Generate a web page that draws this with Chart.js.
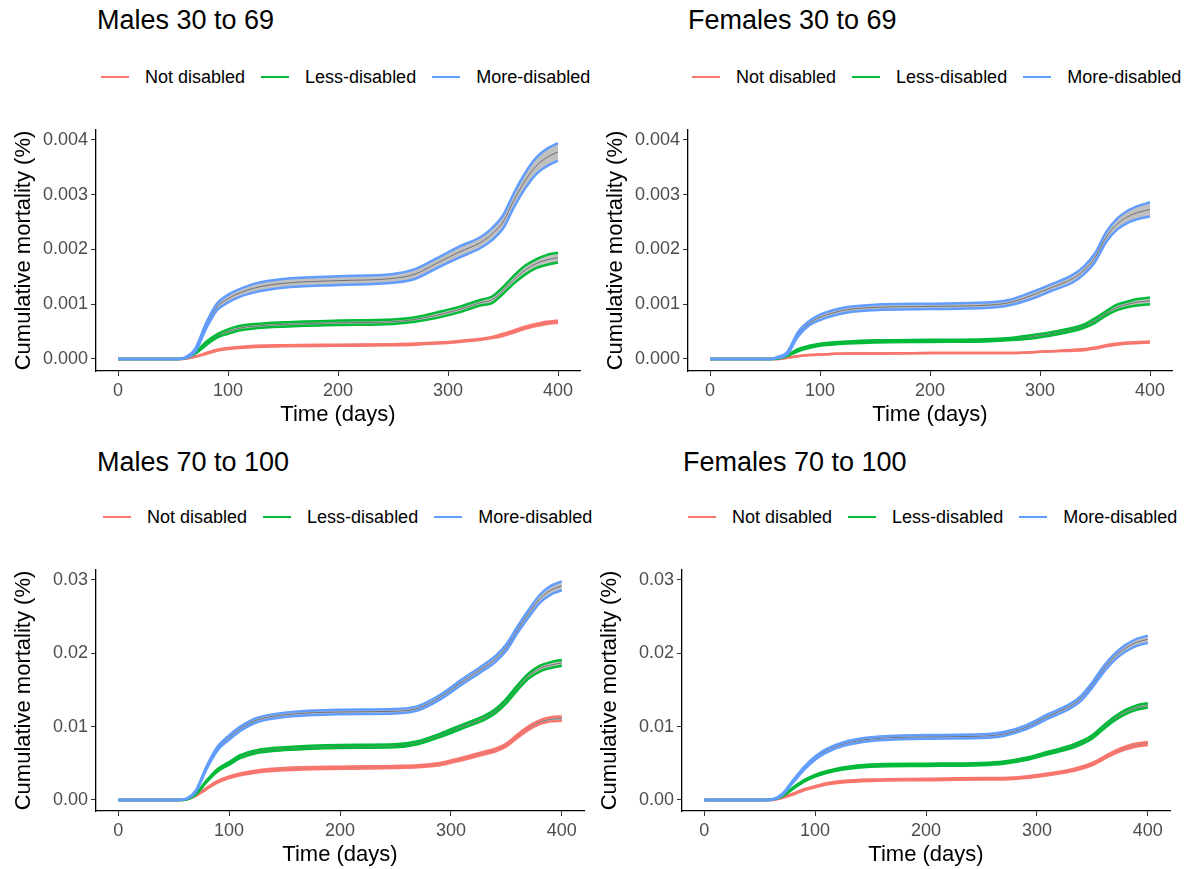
<!DOCTYPE html>
<html>
<head>
<meta charset="utf-8">
<script src="https://cdn.jsdelivr.net/npm/chart.js@4.4.1/dist/chart.umd.min.js"></script>
<style>
  body { margin: 0; background: #fff; width: 1190px; height: 869px; overflow: hidden; position: relative; font-family: "Liberation Sans", Arial, sans-serif; }
  .title { position: absolute; font-size: 27px; line-height: 27px; color: #000; white-space: nowrap; }
  .legend { position: absolute; display: flex; align-items: center; height: 20px; font-size: 18px; color: #000; white-space: nowrap; }
  .legend .sw { width: 28px; height: 2px; margin-right: 16px; }
  .legend .lab { margin-right: 16px; }
  .panel { position: absolute; }
</style>
</head>
<body>
<div id="root"></div>
<script>
// time points (days)
const days = [0, 55, 62, 70, 80, 90, 100, 110, 125, 150, 200, 250, 270, 290, 310, 330, 340, 350, 360, 370, 380, 390, 400];

const seriesNames = ["Not disabled", "Less-disabled", "More-disabled"];
const seriesColors = ["#F8766D", "#00BA38", "#619CFF"];
const xTicks = [0, 100, 200, 300, 400];
const yTicksYoung = [0, 0.001, 0.002, 0.003, 0.004];
const yTicksOld = [0, 0.01, 0.02, 0.03];

// Males 30 to 69
const m30Not  = [0, 0, 0.00001, 0.00004, 0.0001, 0.00016, 0.00019, 0.00021, 0.00023, 0.00024, 0.00025, 0.00026, 0.00027, 0.00029, 0.00032, 0.00036, 0.00039, 0.00044, 0.0005, 0.00057, 0.00062, 0.00066, 0.00068];
const m30Less = [0, 0, 0.00002, 0.0001, 0.00028, 0.00042, 0.0005, 0.00056, 0.0006, 0.00063, 0.00066, 0.00068, 0.00072, 0.0008, 0.0009, 0.00103, 0.00108, 0.00125, 0.00145, 0.00162, 0.00174, 0.00181, 0.00185];
const m30More = [0, 0, 0.00003, 0.00015, 0.0006, 0.00095, 0.0011, 0.0012, 0.0013, 0.00138, 0.00143, 0.00147, 0.00155, 0.00175, 0.00195, 0.00213, 0.00228, 0.0025, 0.0029, 0.00325, 0.00352, 0.00368, 0.00378];
const m30NotCi  = [0, 0, 0, 0, 0.00001, 0.00001, 0.00001, 0.00001, 0.00001, 0.00001, 0.00001, 0.00001, 0.00001, 0.00001, 0.00001, 0.00001, 0.00001, 0.00002, 0.00002, 0.00002, 0.00002, 0.00002, 0.00002];
const m30LessCi = [0, 0, 0, 0.00001, 0.00003, 0.00003, 0.00004, 0.00004, 0.00004, 0.00004, 0.00004, 0.00004, 0.00004, 0.00005, 0.00005, 0.00005, 0.00006, 0.00006, 0.00007, 0.00008, 0.00008, 0.00009, 0.00009];
const m30MoreCi = [0, 0, 0.00001, 0.00003, 0.00005, 0.00006, 0.00007, 0.00007, 0.00008, 0.00008, 0.00008, 0.00008, 0.00009, 0.00009, 0.0001, 0.0001, 0.00011, 0.00012, 0.00013, 0.00014, 0.00015, 0.00016, 0.00016];

// Females 30 to 69
const f30Not  = [0, 0, 0, 0.00002, 0.00005, 0.00007, 0.00008, 0.00009, 0.0001, 0.0001, 0.00011, 0.00011, 0.00011, 0.00012, 0.00014, 0.00016, 0.00017, 0.0002, 0.00024, 0.00027, 0.00029, 0.0003, 0.00031];
const f30Less = [0, 0, 0.00001, 0.00006, 0.00016, 0.00022, 0.00026, 0.00028, 0.0003, 0.00032, 0.00033, 0.00034, 0.00036, 0.0004, 0.00046, 0.00054, 0.0006, 0.0007, 0.00083, 0.00094, 0.001, 0.00104, 0.00106];
const f30More = [0, 0, 0.00003, 0.0001, 0.00045, 0.00065, 0.00076, 0.00083, 0.0009, 0.00094, 0.00096, 0.00098, 0.00102, 0.00114, 0.0013, 0.00147, 0.00162, 0.00185, 0.00222, 0.00246, 0.0026, 0.00268, 0.00273];
const f30NotCi  = [0, 0, 0, 0, 0, 0, 0, 0, 0, 0, 0, 0, 0, 0, 0, 0.00001, 0.00001, 0.00001, 0.00001, 0.00001, 0.00001, 0.00001, 0.00001];
const f30LessCi = [0, 0, 0, 0.00001, 0.00002, 0.00002, 0.00002, 0.00002, 0.00002, 0.00002, 0.00002, 0.00002, 0.00002, 0.00003, 0.00003, 0.00003, 0.00003, 0.00004, 0.00004, 0.00005, 0.00005, 0.00006, 0.00006];
const f30MoreCi = [0, 0, 0.00001, 0.00002, 0.00004, 0.00004, 0.00005, 0.00005, 0.00005, 0.00005, 0.00005, 0.00005, 0.00005, 0.00006, 0.00006, 0.00007, 0.00007, 0.00008, 0.00009, 0.0001, 0.00011, 0.00012, 0.00013];

// Males 70 to 100
const m70Not  = [0, 0, 0.0001, 0.0006, 0.0016, 0.0025, 0.0031, 0.0035, 0.0039, 0.0042, 0.0044, 0.0045, 0.0046, 0.0049, 0.0056, 0.0064, 0.0068, 0.0075, 0.0087, 0.0098, 0.0106, 0.011, 0.0111];
const m70Less = [0, 0, 0.0001, 0.0008, 0.0026, 0.0041, 0.005, 0.0059, 0.0066, 0.007, 0.0073, 0.0074, 0.0078, 0.0088, 0.01, 0.0112, 0.0121, 0.0135, 0.0153, 0.0169, 0.0179, 0.0184, 0.0187];
const m70More = [0, 0, 0.0002, 0.0012, 0.0045, 0.0071, 0.0085, 0.0097, 0.0109, 0.0116, 0.012, 0.0121, 0.0125, 0.014, 0.0161, 0.0181, 0.0192, 0.0208, 0.0232, 0.0254, 0.0274, 0.0286, 0.0292];
const m70NotCi  = [0, 0, 0.00001, 0.00004, 0.00008, 0.0001, 0.00012, 0.00013, 0.00014, 0.00015, 0.00015, 0.00015, 0.00015, 0.00016, 0.00017, 0.00018, 0.00019, 0.0002, 0.00022, 0.00024, 0.00026, 0.00028, 0.0003];
const m70LessCi = [0, 0, 0.00001, 0.00005, 0.0001, 0.00015, 0.00018, 0.0002, 0.0002, 0.0002, 0.0002, 0.0002, 0.0002, 0.00022, 0.00025, 0.00027, 0.00028, 0.0003, 0.00032, 0.00035, 0.00038, 0.0004, 0.0004];
const m70MoreCi = [0, 0, 0.00002, 0.0001, 0.0002, 0.00025, 0.0003, 0.0003, 0.0003, 0.0003, 0.0003, 0.0003, 0.0003, 0.00032, 0.00035, 0.00038, 0.0004, 0.00042, 0.00045, 0.0005, 0.00055, 0.0006, 0.0006];

// Females 70 to 100
const f70Not  = [0, 0, 0, 0.0003, 0.0008, 0.0014, 0.0018, 0.0022, 0.0025, 0.0027, 0.0028, 0.0029, 0.0029, 0.0031, 0.0035, 0.004, 0.0044, 0.0049, 0.0057, 0.0065, 0.0071, 0.0075, 0.0077];
const f70Less = [0, 0, 0.0001, 0.0005, 0.0016, 0.0026, 0.0033, 0.0038, 0.0043, 0.0047, 0.0048, 0.0049, 0.0051, 0.0056, 0.0064, 0.0072, 0.0078, 0.0086, 0.0099, 0.0111, 0.012, 0.0126, 0.0129];
const f70More = [0, 0, 0.0001, 0.0007, 0.0025, 0.0043, 0.0057, 0.0067, 0.0076, 0.0083, 0.0086, 0.0087, 0.009, 0.0099, 0.0114, 0.0128, 0.0139, 0.0157, 0.0178, 0.0195, 0.0207, 0.0215, 0.0219];
const f70NotCi  = [0, 0, 0, 0.00003, 0.00005, 0.00007, 0.00008, 0.00009, 0.0001, 0.0001, 0.0001, 0.0001, 0.0001, 0.00011, 0.00012, 0.00013, 0.00014, 0.00015, 0.00016, 0.00018, 0.0002, 0.0002, 0.0002];
const f70LessCi = [0, 0, 0.00001, 0.00004, 0.00008, 0.0001, 0.00012, 0.00013, 0.00014, 0.00015, 0.00015, 0.00015, 0.00015, 0.00016, 0.00018, 0.0002, 0.00021, 0.00022, 0.00024, 0.00026, 0.00028, 0.0003, 0.0003];
const f70MoreCi = [0, 0, 0.00002, 0.00008, 0.00015, 0.0002, 0.00022, 0.00024, 0.00025, 0.00025, 0.00025, 0.00025, 0.00026, 0.00028, 0.0003, 0.00032, 0.00034, 0.00036, 0.0004, 0.00042, 0.00045, 0.00048, 0.0005];

// panel boxes on the page
const panels = [
  { title: "Males 30 to 69",    tx: 97,  ty: 7,   lx: 101, ly: 67,  left: 0,   top: 125, width: 600, height: 305, padRight: 20,
    series: [[m30Not, m30NotCi], [m30Less, m30LessCi], [m30More, m30MoreCi]], yMin: -0.00022, yMax: 0.00418, yTicks: yTicksYoung, dec: 3 },
  { title: "Females 30 to 69",  tx: 688, ty: 7,   lx: 692, ly: 67,  left: 592, top: 125, width: 598, height: 305, padRight: 18,
    series: [[f30Not, f30NotCi], [f30Less, f30LessCi], [f30More, f30MoreCi]], yMin: -0.00022, yMax: 0.00418, yTicks: yTicksYoung, dec: 3 },
  { title: "Males 70 to 100",   tx: 97,  ty: 449, lx: 103, ly: 507, left: 0,   top: 565, width: 600, height: 305, padRight: 16,
    series: [[m70Not, m70NotCi], [m70Less, m70LessCi], [m70More, m70MoreCi]], yMin: -0.0015, yMax: 0.03136, yTicks: yTicksOld, dec: 2 },
  { title: "Females 70 to 100", tx: 683, ty: 449, lx: 688, ly: 507, left: 586, top: 565, width: 604, height: 305, padRight: 20,
    series: [[f70Not, f70NotCi], [f70Less, f70LessCi], [f70More, f70MoreCi]], yMin: -0.0015, yMax: 0.03136, yTicks: yTicksOld, dec: 2 }
];

const root = document.getElementById("root");

function band(center, ci, color) {
  // upper bound (filled down to lower), lower bound, then the estimate
  return [
    { data: days.map((d, i) => ({ x: d, y: center[i] + ci[i] })), borderColor: color, borderWidth: 2.5, fill: "+1", backgroundColor: "rgba(150,150,150,0.6)" },
    { data: days.map((d, i) => ({ x: d, y: center[i] - ci[i] })), borderColor: color, borderWidth: 2.5, fill: false },
    { data: days.map((d, i) => ({ x: d, y: center[i] })), borderColor: "rgba(80,80,80,0.7)", borderWidth: 1, fill: false }
  ];
}

panels.forEach(p => {
  const t = document.createElement("div");
  t.className = "title";
  t.style.left = p.tx + "px";
  t.style.top = p.ty + "px";
  t.textContent = p.title;
  root.appendChild(t);

  const lg = document.createElement("div");
  lg.className = "legend";
  lg.style.left = p.lx + "px";
  lg.style.top = p.ly + "px";
  seriesNames.forEach((n, i) => {
    const sw = document.createElement("span");
    sw.className = "sw";
    sw.style.background = seriesColors[i];
    const lab = document.createElement("span");
    lab.className = "lab";
    lab.textContent = n;
    lg.appendChild(sw);
    lg.appendChild(lab);
  });
  root.appendChild(lg);

  const box = document.createElement("div");
  box.className = "panel";
  box.style.left = p.left + "px";
  box.style.top = p.top + "px";
  box.style.width = p.width + "px";
  box.style.height = p.height + "px";
  const cv = document.createElement("canvas");
  box.appendChild(cv);
  root.appendChild(box);

  // blue first so it ends up drawn on top
  let datasets = [];
  for (let i = 2; i >= 0; i--) {
    datasets = datasets.concat(band(p.series[i][0], p.series[i][1], seriesColors[i]));
  }

  new Chart(cv, {
    type: "line",
    data: { datasets },
    options: {
      responsive: true,
      maintainAspectRatio: false,
      animation: false,
      layout: { padding: { top: 5, right: p.padRight, left: 0, bottom: 0 } },
      elements: { point: { radius: 0 }, line: { cubicInterpolationMode: "monotone" } },
      plugins: { legend: { display: false }, tooltip: { enabled: false }, filler: { drawTime: "beforeDatasetsDraw" } },
      scales: {
        x: {
          type: "linear",
          min: -20,
          max: 420,
          afterFit: s => { s.height = 59; s.paddingLeft = 0; s.paddingRight = 0; },
          afterBuildTicks: s => { s.ticks = xTicks.map(v => ({ value: v })); },
          grid: { display: true, drawOnChartArea: false, drawTicks: true, tickLength: 5, color: "#333" },
          border: { display: true, color: "#000", width: 1.3 },
          ticks: { color: "#4D4D4D", font: { family: "Liberation Sans", size: 18 }, padding: 4, maxRotation: 0 },
          title: { display: true, text: "Time (days)", color: "#000", font: { family: "Liberation Sans", size: 22 }, padding: { top: 0, bottom: 2 } }
        },
        y: {
          min: p.yMin,
          max: p.yMax,
          afterFit: s => { s.width = 96; s.paddingTop = 0; s.paddingBottom = 0; },
          afterBuildTicks: s => { s.ticks = p.yTicks.map(v => ({ value: v })); },
          grid: { display: true, drawOnChartArea: false, drawTicks: true, tickLength: 5, color: "#333" },
          border: { display: true, color: "#000", width: 1.3 },
          ticks: { color: "#4D4D4D", font: { family: "Liberation Sans", size: 18 }, padding: 3, callback: v => v.toFixed(p.dec) },
          title: { display: true, text: "Cumulative mortality (%)", color: "#000", font: { family: "Liberation Sans", size: 22 }, padding: { top: 11, bottom: 0 } }
        }
      }
    }
  });
});
</script>
</body>
</html>
